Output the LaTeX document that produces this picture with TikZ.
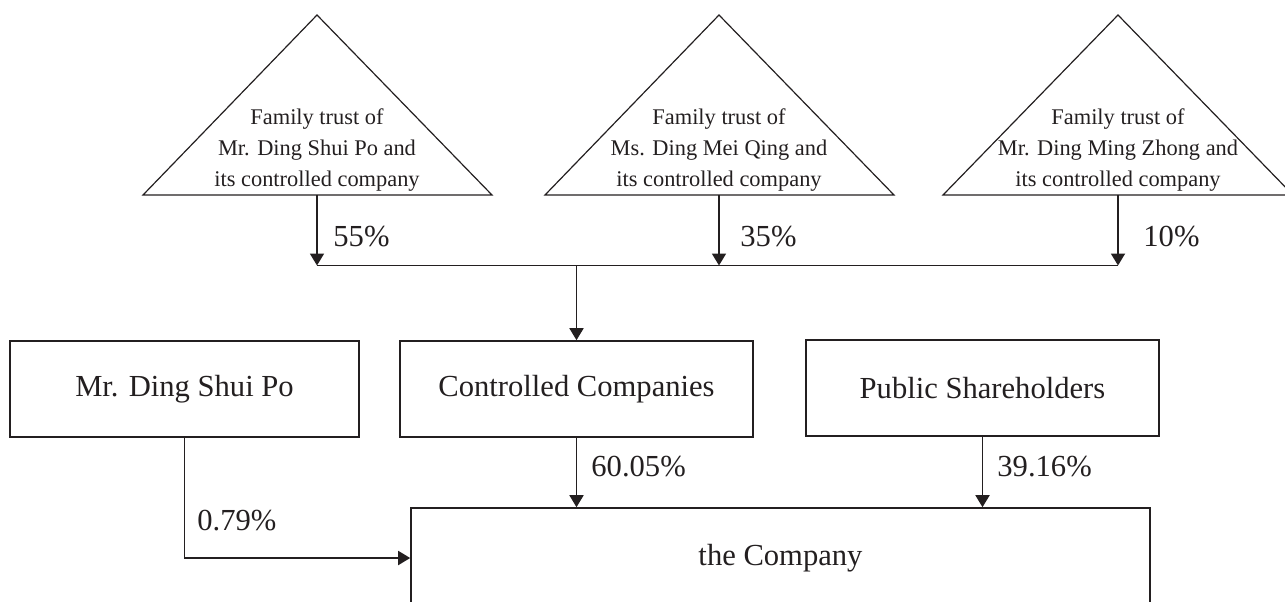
\documentclass[tikz,border=0pt]{standalone}
\usepackage{fontspec}
\setmainfont{Liberation Serif}
\usetikzlibrary{arrows.meta}
\definecolor{ink}{RGB}{35,31,32}
\tikzset{
	trust/.style={draw=ink, line width=0.6pt},
	trusttext/.style={align=center, inner sep=0pt, text=ink, font=\fontsize{11.2}{15.5}\selectfont},
	holder/.style={draw=ink, line width=0.8pt, minimum height=48pt, inner sep=0pt, text=ink, font=\fontsize{15.3}{18}\selectfont},
	share/.style={anchor=west, inner sep=0pt, text=ink, font=\fontsize{15.3}{18}\selectfont},
	flow/.style={draw=ink, line width=0.9pt, -{Triangle[width=7pt,length=6pt]}},
	bus/.style={draw=ink, line width=0.9pt}
}
\begin{document}
\begin{tikzpicture}[x=5pt,y=-5pt]
	\useasboundingbox (0,0) rectangle (128.5,60.1);
	\clip (0,0) rectangle (128.5,60.1);
	% family trusts
	\draw [trust] (14.3,19.5) -- (31.7,1.5) -- (49.2,19.5) -- cycle;
	\node [trusttext] (t1) at (31.7,15.0) {Family trust of\\Mr. Ding Shui Po and\\its controlled company};
	\coordinate (t1b) at (31.7,19.5);
	\draw [trust] (54.5,19.5) -- (71.9,1.5) -- (89.4,19.5) -- cycle;
	\node [trusttext] (t2) at (71.9,15.0) {Family trust of\\Ms. Ding Mei Qing and\\its controlled company};
	\coordinate (t2b) at (71.9,19.5);
	\draw [trust] (94.3,19.5) -- (111.8,1.5) -- (129.3,19.5) -- cycle;
	\node [trusttext] (t3) at (111.8,15.0) {Family trust of\\Mr. Ding Ming Zhong and\\its controlled company};
	\coordinate (t3b) at (111.8,19.5);
	% joining line
	\coordinate (j1) at (31.7,26.55);
	\coordinate (j2) at (71.9,26.55);
	\coordinate (j3) at (111.8,26.55);
	\draw [flow] (t1b) -- (j1);
	\draw [flow] (t2b) -- (j2);
	\draw [flow] (t3b) -- (j3);
	\draw [bus] (j1) -- (j3);
	\node [share] (p1) at (33.3,23.7) {55\%};
	\node [share] (p2) at (74.0,23.7) {35\%};
	\node [share] (p3) at (114.3,23.7) {10\%};
	% shareholders
	\node [holder, minimum width=174.5pt] (ding) at (18.45,38.9) {Mr. Ding Shui Po};
	\node [holder, minimum width=176.5pt] (ctrl) at (57.65,38.9) {Controlled Companies};
	\node [holder, minimum width=176.5pt] (pub) at (98.25,38.8) {Public Shareholders};
	\node [holder, minimum width=369.5pt, minimum height=50pt] (co) at (78.05,55.8) {the Company};
	\draw [flow] (ctrl.north |- j1) -- (ctrl.north);
	\draw [flow] (ctrl.south) -- (ctrl.south |- co.north);
	\draw [flow] (pub.south) -- (pub.south |- co.north);
	\draw [flow] (ding.south) |- (co.west);
	\node [share] (p4) at (59.1,46.7) {60.05\%};
	\node [share] (p5) at (99.7,46.7) {39.16\%};
	\node [share] (p6) at (19.7,52.1) {0.79\%};
\end{tikzpicture}
\end{document}
